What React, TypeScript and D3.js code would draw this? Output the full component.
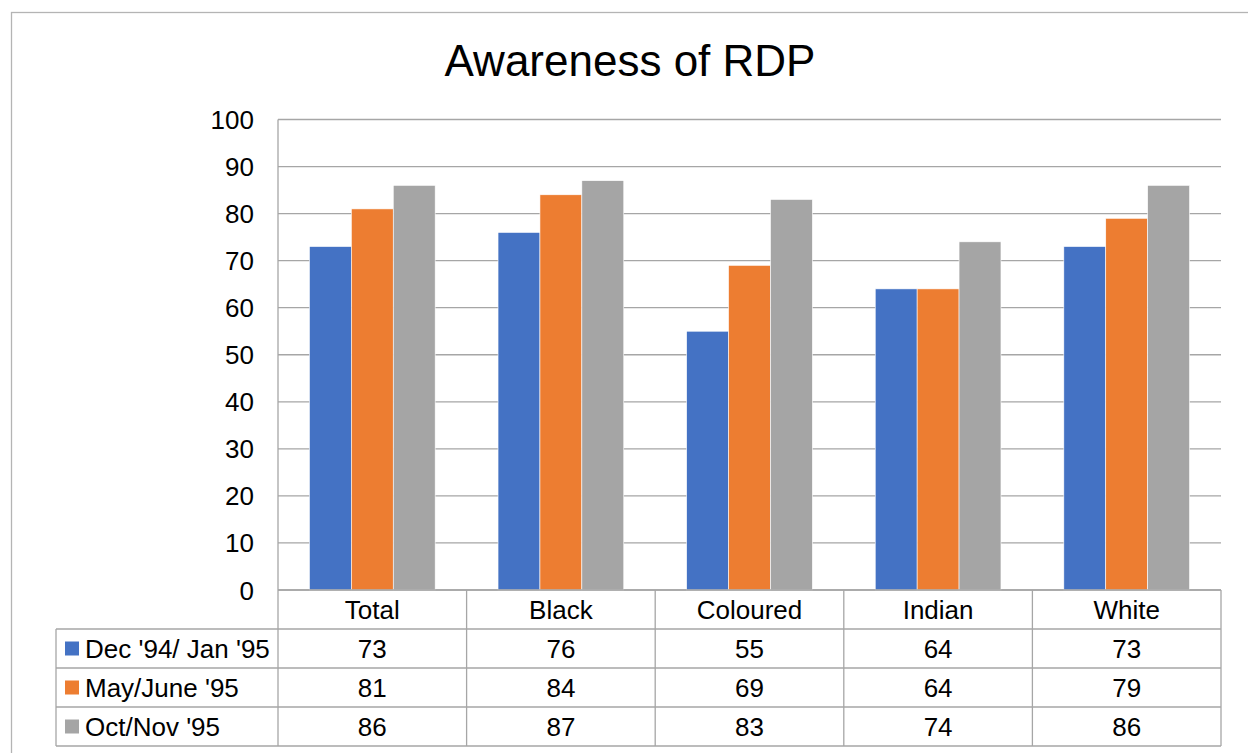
import React from 'react';
import * as d3 from 'd3';

const categories = ['Total', 'Black', 'Coloured', 'Indian', 'White'];
const seriesNames = ["Dec '94/ Jan '95", "May/June '95", "Oct/Nov '95"];
const dec94 = [73, 76, 55, 64, 73];
const may95 = [81, 84, 69, 64, 79];
const oct95 = [86, 87, 83, 74, 86];
const yTicks = [0, 10, 20, 30, 40, 50, 60, 70, 80, 90, 100];
const colors = ['#4472C4', '#ED7D31', '#A5A5A5'];

const App: React.FC = () => {
  const width = 1248;
  const height = 753;
  const plot = { left: 278, right: 1221, top: 119.5, bottom: 590 };
  const tableLeft = 56;
  const rowH = 39;
  const font = '"Liberation Sans", Arial, sans-serif';
  const gridColor = '#a6a6a6';
  const fs = 26;

  const series = [dec94, may95, oct95];

  const y = d3.scaleLinear().domain([0, 100]).range([plot.bottom, plot.top]);
  const x0 = d3.scaleBand<string>().domain(categories).range([plot.left, plot.right]);
  // Excel gap width 150%: group = 3 bars, gap = 1.5 bars
  const barW = x0.bandwidth() / 4.5;
  const x1 = d3
    .scaleBand<number>()
    .domain([0, 1, 2])
    .range([0, barW * 3]);
  const groupOffset = (x0.bandwidth() - barW * 3) / 2;

  const rowTop = (i: number) => plot.bottom + rowH * (i + 1);
  const tableBottom = rowTop(series.length);

  return (
    <svg
      width={width}
      height={height}
      style={{ position: 'absolute', left: 0, top: 0, background: '#fff' }}
      fontFamily={font}
    >
      {/* chart frame */}
      <rect x={11.5} y={12.5} width={1300} height={800} fill="#fff" stroke="#b4b4b4" strokeWidth={1.3} />

      <text x={630} y={76} textAnchor="middle" fontSize={44} fill="#000">
        Awareness of RDP
      </text>

      {/* gridlines */}
      {yTicks.map((t) => (
        <line
          key={t}
          x1={plot.left}
          x2={plot.right}
          y1={y(t)}
          y2={y(t)}
          stroke={gridColor}
          strokeWidth={1.3}
        />
      ))}
      <line x1={plot.left} x2={plot.left} y1={plot.top} y2={plot.bottom} stroke={gridColor} strokeWidth={1.3} />

      {/* y tick labels */}
      {yTicks.map((t) => (
        <text key={t} x={254} y={y(t) + 9.5} textAnchor="end" fontSize={fs} fill="#000">
          {t}
        </text>
      ))}

      {/* bars */}
      {categories.map((c, ci) => (
        <g key={c} transform={`translate(${(x0(c) ?? 0) + groupOffset},0)`}>
          {series.map((s, si) => (
            <rect
              key={si}
              x={x1(si)}
              y={y(s[ci])}
              width={x1.bandwidth()}
              height={plot.bottom - y(s[ci])}
              fill={colors[si]}
              stroke="#fff"
              strokeWidth={0.6}
            />
          ))}
        </g>
      ))}

      {/* data table */}
      <g stroke={gridColor} strokeWidth={1.3}>
        <line x1={plot.left} x2={plot.right} y1={plot.bottom} y2={plot.bottom} />
        {series.map((_, i) => (
          <line key={i} x1={tableLeft} x2={plot.right} y1={rowTop(i)} y2={rowTop(i)} />
        ))}
        <line x1={tableLeft} x2={plot.right} y1={tableBottom} y2={tableBottom} />
        <line x1={tableLeft} x2={tableLeft} y1={rowTop(0)} y2={tableBottom} />
        {categories.map((c) => (
          <line key={c} x1={x0(c)} x2={x0(c)} y1={plot.bottom} y2={tableBottom} />
        ))}
        <line x1={plot.right} x2={plot.right} y1={plot.bottom} y2={tableBottom} />
      </g>

      {categories.map((c) => (
        <text
          key={c}
          x={(x0(c) ?? 0) + x0.bandwidth() / 2}
          y={plot.bottom + rowH / 2 + 9.5}
          textAnchor="middle"
          fontSize={fs}
          fill="#000"
        >
          {c}
        </text>
      ))}

      {series.map((s, si) => (
        <g key={si}>
          <rect x={65} y={rowTop(si) + rowH / 2 - 7} width={14} height={14} fill={colors[si]} />
          <text x={85} y={rowTop(si) + rowH / 2 + 9} fontSize={fs} fill="#000">
            {seriesNames[si]}
          </text>
          {categories.map((c, ci) => (
            <text
              key={c}
              x={(x0(c) ?? 0) + x0.bandwidth() / 2}
              y={rowTop(si) + rowH / 2 + 9}
              textAnchor="middle"
              fontSize={fs}
              fill="#000"
            >
              {s[ci]}
            </text>
          ))}
        </g>
      ))}
    </svg>
  );
};

export default App;
